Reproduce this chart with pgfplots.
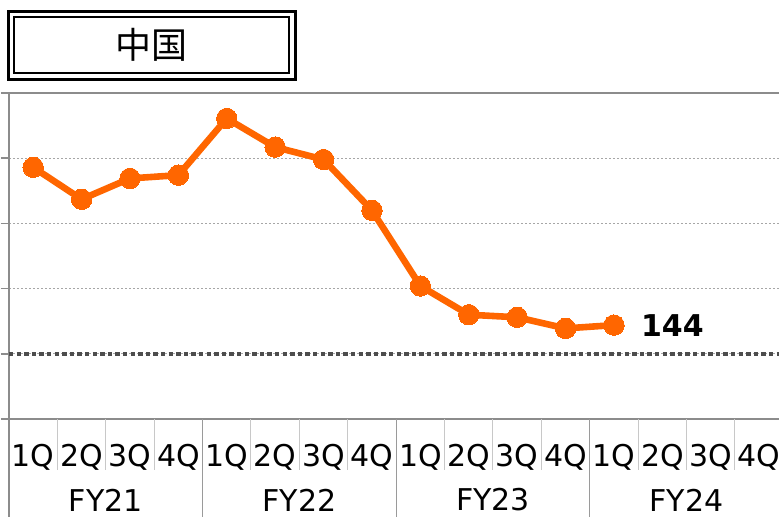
\documentclass[border=0pt]{standalone}
\usepackage{pgfplots}
\pgfplotsset{compat=1.18}
\usepackage{fontspec}
\setmainfont{DejaVu Sans}
\newfontfamily\cjk{Noto Sans CJK JP}
\definecolor{lineorange}{HTML}{FF6600}
\definecolor{axisgray}{HTML}{8C8C8C}
\definecolor{gridgray}{HTML}{A6A6A6}
\definecolor{sepgray}{HTML}{C8C8C8}
\definecolor{yeargray}{HTML}{9A9A9A}
\definecolor{basedark}{HTML}{4D4D4D}

\begin{document}
\begin{tikzpicture}
\useasboundingbox (0,0) rectangle (389.5pt,258pt);
\clip (0,0) rectangle (389.5pt,258pt);
\begin{axis}[
    at={(4.5pt,48.5pt)}, anchor=south west,
    scale only axis,
    width=385pt, height=163pt,
    xmin=-0.5, xmax=15.41, ymin=0, ymax=500,
    axis x line*=box, axis y line*=left,
    axis line style={axisgray, line width=0.8pt},
    ytick={0,100,...,500}, yticklabels={},
    tick align=outside, major tick length=4pt,
    ytick style={axisgray, line width=0.8pt},
    xtick={0,...,15},
    xticklabels={1Q,2Q,3Q,4Q,1Q,2Q,3Q,4Q,1Q,2Q,3Q,4Q,1Q,2Q,3Q,4Q},
    xtick style={draw=none},
    xticklabel style={anchor=center, yshift=-15pt, font=\fontsize{15}{17}\selectfont},
    ymajorgrids,
    grid style={gridgray, line width=0.5pt, dash pattern=on 1.2pt off 0.8pt},
    clip=false,
]
% 基準線 (100)
\draw[basedark, line width=1.8pt, dash pattern=on 2.2pt off 1.6pt]
    (axis cs:-0.5,100) -- (axis cs:15.41,100);

\addplot[lineorange, line width=3.3pt, line join=round,
    mark=*, mark size=5.1pt,
    mark options={solid, fill=lineorange, draw=lineorange, line width=0pt}]
coordinates {
    (0,386) (1,337) (2,369) (3,374)
    (4,461) (5,417) (6,398) (7,320)
    (8,204) (9,160) (10,156) (11,139)
    (12,144)
};

\node[anchor=west, xshift=10pt, font=\bfseries\fontsize{15}{17}\selectfont]
    at (axis cs:12,144) {144};

% 区切り線
\pgfplotsinvokeforeach{0.5,1.5,2.5,4.5,5.5,6.5,8.5,9.5,10.5,12.5,13.5,14.5}{
    \draw[sepgray, line width=0.5pt] (axis cs:#1,0) -- ([yshift=-25.5pt]axis cs:#1,0);
}
\pgfplotsinvokeforeach{3.5,7.5,11.5}{
    \draw[yeargray, line width=0.5pt] (axis cs:#1,0) -- ([yshift=-49pt]axis cs:#1,0);
}
\draw[axisgray, line width=0.8pt] (axis cs:-0.5,0) -- ([yshift=-49pt]axis cs:-0.5,0);

\node[font=\fontsize{15}{17}\selectfont, yshift=-40.5pt] at (axis cs:1.5,0) {FY21};
\node[font=\fontsize{15}{17}\selectfont, yshift=-40.5pt] at (axis cs:5.5,0) {FY22};
\node[font=\fontsize{15}{17}\selectfont, yshift=-40.5pt] at (axis cs:9.5,0) {FY23};
\node[font=\fontsize{15}{17}\selectfont, yshift=-40.5pt] at (axis cs:13.5,0) {FY24};
\end{axis}

% タイトル枠
\draw[black, line width=1.5pt] (4pt,218.5pt) rectangle (147.5pt,252.5pt);
\draw[black, line width=1pt] (7pt,221.5pt) rectangle (144.5pt,249.5pt);
\node[font=\cjk\fontsize{18}{21}\selectfont] at (75.75pt,235.5pt) {中国};
\end{tikzpicture}
\end{document}
